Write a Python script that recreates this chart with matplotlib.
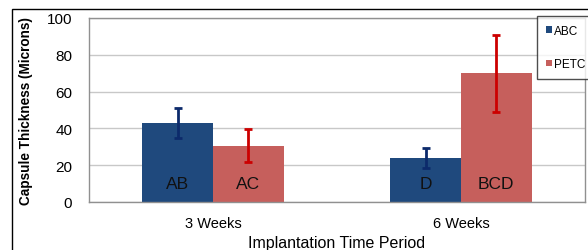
import matplotlib
matplotlib.use("Agg")
import matplotlib.pyplot as plt
import numpy as np
from matplotlib.patches import Rectangle

categories = ["3 Weeks", "6 Weeks"]
series = ["ABC", "PETC"]
abc_vals = [43, 24]
abc_err = [8, 5.5]
petc_vals = [30.5, 70]
petc_err = [9, 21]
abc_labels = ["AB", "D"]
petc_labels = ["AC", "BCD"]
yticks = [0, 20, 40, 60, 80, 100]

blue = "#1F497D"
red = "#C65F5C"
blue_err = "#0C2A6B"
red_err = "#CC0000"

W, H = 588, 251
fig = plt.figure(figsize=(W / 100, H / 100), dpi=100)
plt.rcParams['font.family'] = ['Liberation Sans', 'DejaVu Sans']

# outer frame
fig.add_artist(Rectangle((12 / W, -0.1), 2.0, (251 - 10) / H + 0.1, transform=fig.transFigure,
                         fill=False, edgecolor="black", linewidth=1.0))

ax = fig.add_axes([89 / W, (251 - 203) / H, (585 - 89) / W, (203 - 19) / H])
x = np.arange(len(categories))
bw = 0.285
ax.bar(x - bw / 2, abc_vals, bw, color=blue, label=series[0], zorder=2)
ax.bar(x + bw / 2, petc_vals, bw, color=red, label=series[1], zorder=2)
ax.errorbar(x - bw / 2, abc_vals, yerr=abc_err, fmt="none", ecolor=blue_err,
            elinewidth=2, capsize=3, capthick=2, zorder=3)
ax.errorbar(x + bw / 2, petc_vals, yerr=petc_err, fmt="none", ecolor=red_err,
            elinewidth=2, capsize=3, capthick=2, zorder=3)

for i in range(len(categories)):
    ax.text(x[i] - bw / 2, 10, abc_labels[i], ha="center", va="center", fontsize=12.5, color="#111111", zorder=4)
    ax.text(x[i] + bw / 2, 10, petc_labels[i], ha="center", va="center", fontsize=12.5, color="#111111", zorder=4)

ax.set_xlim(-0.5, 1.5)
ax.set_ylim(0, 100)
ax.set_yticks(yticks)
ax.set_xticks(x)
ax.set_xticklabels(categories)
ax.tick_params(axis="y", length=0, labelsize=11, pad=12)
ax.tick_params(axis="x", length=0, labelsize=10.5, pad=10)
ax.grid(axis="y", color="#C8C8C8", linewidth=1, zorder=0)
for s in ax.spines.values():
    s.set_color("#909090")
    s.set_linewidth(1)
ax.set_ylabel("Capsule Thickness (Microns)", fontsize=9.8, fontweight="bold", labelpad=10)
ax.set_xlabel("Implantation Time Period", fontsize=11.5, labelpad=4)

leg = ax.legend(loc="upper left", bbox_to_anchor=((537 - 89) / (585 - 89), 1.01),
                fontsize=8.5, frameon=True, fancybox=False, handlelength=0.5, handleheight=0.5,
                handletextpad=0.15, labelspacing=1.8, borderpad=0.75, borderaxespad=0)
leg.get_frame().set_edgecolor("#222222")
leg.get_frame().set_linewidth(1)
leg.set_zorder(5)

fig.savefig("out.png", dpi=100)
